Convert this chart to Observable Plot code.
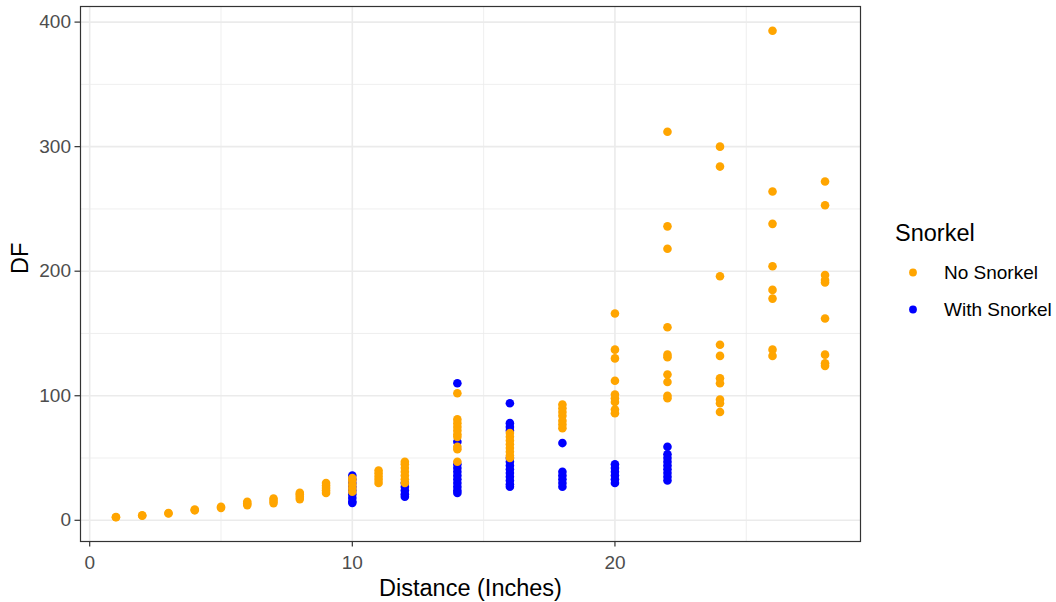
<!DOCTYPE html>
<html>
<head>
<meta charset="utf-8">
<script src="https://cdn.jsdelivr.net/npm/d3@7"></script>
<script src="https://cdn.jsdelivr.net/npm/@observablehq/plot@0.6"></script>
<style>
  html, body { margin: 0; padding: 0; background: #ffffff; }
  body { font-family: "Liberation Sans", Arial, sans-serif; }
  #wrap { position: relative; width: 1056px; height: 602px; overflow: hidden; }
  #legend { position: absolute; left: 895px; top: 218px; color: #000; }
  #legend .title { font-size: 23.5px; line-height: 30px; margin-bottom: 6px; }
  #legend .item { display: flex; align-items: center; height: 37px; font-size: 19px; }
  #legend svg { width: 36px; height: 37px; margin-left: 0px; margin-right: 13px; }
</style>
</head>
<body>
<div id="wrap"></div>
<script>
// ---- data ----
const groups = ["No Snorkel", "With Snorkel"];
const groupColors = ["#FFA500", "#0000FF"];

const noSnorkelDistance = [
  1, 1, 2, 2, 3, 3, 4, 4, 5, 5,
  6, 6, 6, 7, 7, 7, 8, 8, 8, 8,
  9, 9, 9, 9, 9, 10, 10, 10, 10, 10,
  11, 11, 11, 11, 11, 12, 12, 12, 12, 12, 12, 12,
  14, 14, 14, 14, 14, 14, 14, 14, 14, 14,
  16, 16, 16, 16, 16, 16, 16, 16,
  18, 18, 18, 18, 18, 18, 18,
  20, 20, 20, 20, 20, 20, 20, 20, 20,
  22, 22, 22, 22, 22, 22, 22, 22, 22, 22,
  24, 24, 24, 24, 24, 24, 24, 24, 24, 24,
  26, 26, 26, 26, 26, 26, 26, 26,
  28, 28, 28, 28, 28, 28, 28, 28, 28
];
const noSnorkelDF = [
  2.5, 2.7, 3.6, 4.0, 5.4, 5.8, 8.0, 8.6, 10.0, 10.8,
  12.2, 13.5, 14.8, 13.8, 15.6, 17.5, 17.0, 19.0, 20.8, 22.0,
  22.0, 24.0, 26.0, 28.0, 30.0, 23.0, 26.0, 29.0, 32.0, 34.0,
  30.0, 32.5, 35.0, 37.5, 40.0, 30.0, 33.0, 36.0, 39.0, 42.0, 45.0, 47.0,
  102, 81, 78, 75, 72, 69, 67, 59, 57, 47,
  70, 67, 64, 61, 58, 55, 52, 50,
  93, 90, 87, 84, 80, 77, 74,
  166, 137, 130, 112, 101, 98, 95, 89, 86,
  312, 236, 218, 155, 133, 131, 117, 111, 100, 98,
  300, 284, 196, 141, 132, 114, 110, 97, 94, 87,
  393, 264, 238, 204, 185, 178, 137, 132,
  272, 253, 197, 193, 191, 162, 133, 126, 124
];

const withSnorkelDistance = [
  10, 10, 10, 10, 10, 10, 10, 10, 10,
  12, 12, 12, 12, 12,
  14, 14, 14, 14, 14, 14, 14, 14, 14, 14, 14,
  16, 16, 16, 16, 16, 16, 16, 16, 16, 16, 16, 16, 16,
  18, 18, 18, 18, 18, 18,
  20, 20, 20, 20, 20, 20,
  22, 22, 22, 22, 22, 22, 22, 22, 22
];
const withSnorkelDF = [
  36, 33, 30, 27, 24, 21, 18, 15, 14,
  30, 27, 24, 21, 19,
  110, 63, 45, 42, 39, 36, 33, 30, 27, 24, 22,
  94, 78, 75, 72, 50, 47, 44, 41, 38, 35, 32, 29, 27,
  62, 39, 36, 33, 30, 27,
  45, 42, 39, 36, 33, 30,
  59, 53, 50, 47, 44, 41, 38, 35, 32
];

const xTicks = [0, 10, 20];
const xMinorTicks = [5, 15, 25];
const yTicks = [0, 100, 200, 300, 400];
const yMinorTicks = [50, 150, 250, 350];

const xTitle = "Distance (Inches)";
const yTitle = "DF";
const legendTitle = "Snorkel";

// ---- table built from the arrays (blue drawn first, orange on top) ----
const rows = [
  ...withSnorkelDistance.map((d, i) => ({distance: d, df: withSnorkelDF[i], group: groups[1]})),
  ...noSnorkelDistance.map((d, i) => ({distance: d, df: noSnorkelDF[i], group: groups[0]}))
];

const xExt = d3.extent(rows, d => d.distance);
const yExt = d3.extent(rows, d => d.df);
const xPad = (xExt[1] - xExt[0]) * 0.05;
const yPad = (yExt[1] - yExt[0]) * 0.05;

const chart = Plot.plot({
  width: 1056,
  height: 602,
  marginLeft: 80,
  marginRight: 196,
  marginTop: 6,
  marginBottom: 61,
  style: { fontFamily: "'Liberation Sans', Arial, sans-serif", background: "#ffffff", overflow: "visible" },
  x: { domain: [xExt[0] - xPad, xExt[1] + xPad] },
  y: { domain: [yExt[0] - yPad, yExt[1] + yPad] },
  color: { domain: groups, range: groupColors },
  marks: [
    Plot.ruleX(xMinorTicks, { stroke: "#EBEBEB", strokeWidth: 0.8 }),
    Plot.ruleY(yMinorTicks, { stroke: "#EBEBEB", strokeWidth: 0.8 }),
    Plot.ruleX(xTicks, { stroke: "#EBEBEB", strokeWidth: 1.6 }),
    Plot.ruleY(yTicks, { stroke: "#EBEBEB", strokeWidth: 1.6 }),
    Plot.dot(rows, { x: "distance", y: "df", fill: "group", r: 4.3, stroke: null }),
    Plot.frame({ stroke: "#333333", strokeWidth: 1.2 }),
    Plot.axisX(xTicks, { tickSize: 5.5, tickPadding: 8, fontSize: 19, stroke: "#333333", fill: "#4D4D4D", label: null, strokeWidth: 1.2 }),
    Plot.axisY(yTicks, { tickSize: 5.5, tickPadding: 4, fontSize: 19, stroke: "#333333", fill: "#4D4D4D", label: null, strokeWidth: 1.2 }),
    Plot.text([xTitle], { frameAnchor: "bottom", dy: 54, fontSize: 23.5, fill: "#000000" }),
    Plot.text([yTitle], { frameAnchor: "left", dx: -60, rotate: -90, fontSize: 23.5, fill: "#000000" })
  ]
});

const wrap = document.getElementById("wrap");
wrap.appendChild(chart);

// ---- legend (HTML) ----
const legend = document.createElement("div");
legend.id = "legend";
const t = document.createElement("div");
t.className = "title";
t.textContent = legendTitle;
legend.appendChild(t);
groups.forEach((g, i) => {
  const item = document.createElement("div");
  item.className = "item";
  const ns = "http://www.w3.org/2000/svg";
  const s = document.createElementNS(ns, "svg");
  s.setAttribute("viewBox", "0 0 36 37");
  const c = document.createElementNS(ns, "circle");
  c.setAttribute("cx", "18");
  c.setAttribute("cy", "18.5");
  c.setAttribute("r", "3.9");
  c.setAttribute("fill", groupColors[i]);
  s.appendChild(c);
  item.appendChild(s);
  const lab = document.createElement("span");
  lab.textContent = g;
  item.appendChild(lab);
  legend.appendChild(item);
});
wrap.appendChild(legend);
</script>
</body>
</html>
